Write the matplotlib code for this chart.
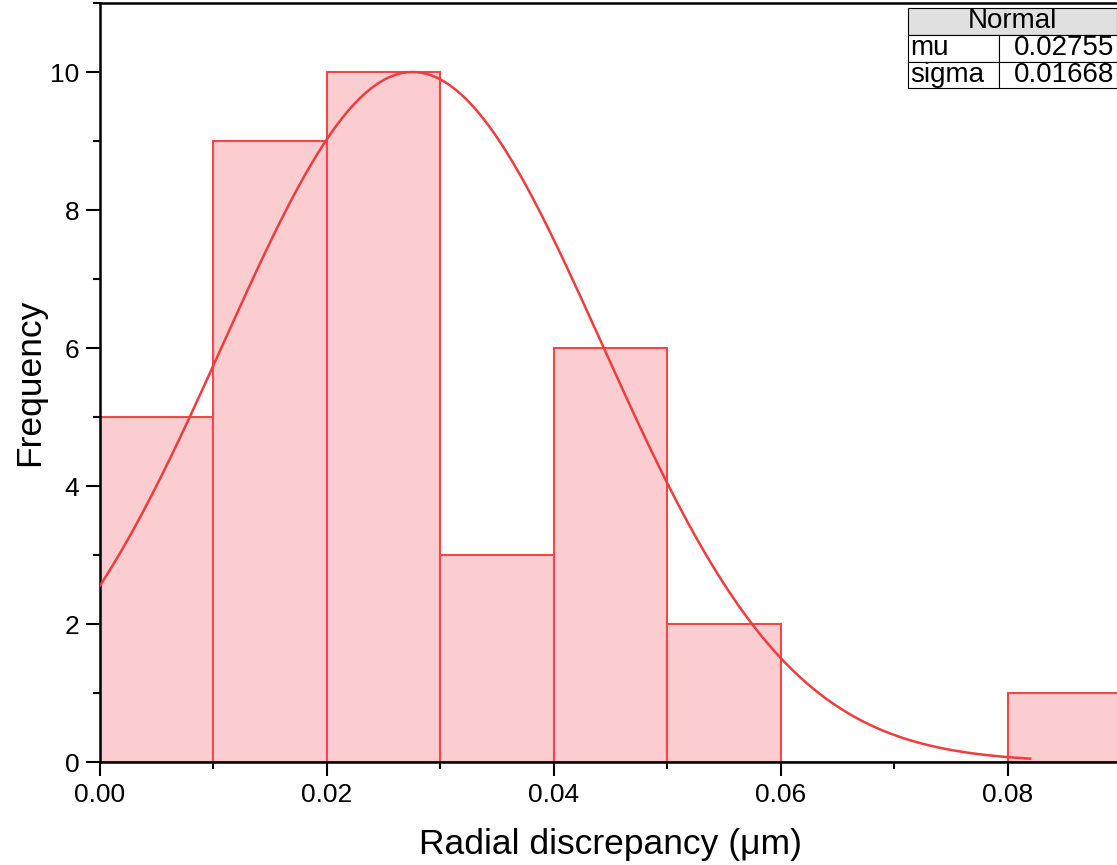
import numpy as np
import matplotlib.pyplot as plt
from matplotlib.ticker import MultipleLocator

plt.rcParams['font.family'] = ['Liberation Sans', 'DejaVu Sans']

# histogram data
bin_left = [0.00, 0.01, 0.02, 0.03, 0.04, 0.05, 0.06, 0.07, 0.08]
counts = [5, 9, 10, 3, 6, 2, 0, 0, 1]
bin_width = 0.01

# normal fit
mu = 0.02755
sigma = 0.01668
curve_peak = 10
curve_end = 0.082

fig = plt.figure(figsize=(11.17, 8.65), dpi=100)
ax = fig.add_axes([100 / 1117, 103 / 865, 1021 / 1117, 759 / 865])

ax.bar(bin_left, counts, width=bin_width, align='edge',
       color='#fbcdd0', edgecolor='#f04848', linewidth=1.5, zorder=1)

x = np.linspace(0, curve_end, 400)
y = curve_peak * np.exp(-0.5 * ((x - mu) / sigma) ** 2)
ax.plot(x, y, color='#f03c3c', linewidth=1.8, zorder=3)

ax.set_xlim(0, 0.09)
ax.set_ylim(0, 11)
ax.xaxis.set_major_locator(MultipleLocator(0.02))
ax.xaxis.set_minor_locator(MultipleLocator(0.01))
ax.yaxis.set_major_locator(MultipleLocator(2))
ax.yaxis.set_minor_locator(MultipleLocator(1))
ax.xaxis.set_major_formatter(plt.FormatStrFormatter('%.2f'))

ax.tick_params(which='major', direction='out', length=10, width=1.5, labelsize=19, pad=5)
ax.tick_params(which='minor', direction='out', length=5, width=1.5)
for s in ['left', 'bottom', 'top']:
    ax.spines[s].set_linewidth(1.8)
ax.spines['right'].set_visible(False)

ax.set_xlabel('Radial discrepancy (μm)', fontsize=25.5, labelpad=15)
ax.set_ylabel('Frequency', fontsize=25.5, labelpad=3)

# parameter table, top right
x0 = 808 / 1021
tw = 209 / 1021
hdr = ax.table(cellText=[['Normal']], cellLoc='center',
               bbox=[x0, 1 - 32 / 759, tw, 27 / 759])
body = ax.table(cellText=[['mu', '0.02755'], ['sigma', '0.01668']],
                cellLoc='left', colWidths=[91, 118],
                bbox=[x0, 1 - 85 / 759, tw, 53 / 759])
for tbl in (hdr, body):
    tbl.auto_set_font_size(False)
    tbl.set_fontsize(20)
    for (r, c), cell in tbl.get_celld().items():
        cell.set_linewidth(0.8)
        cell.PAD = 0.02
hdr[0, 0].set_facecolor('#e0e0e0')
for r in range(2):
    body[r, 1].set_text_props(ha='right')
    body[r, 1]._loc = 'right'

fig.savefig('out.png', dpi=100)
